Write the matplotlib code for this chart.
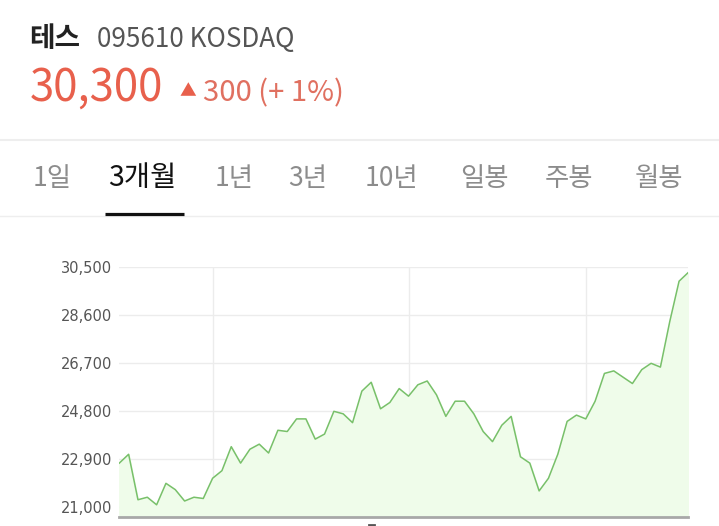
import matplotlib.pyplot as plt
from matplotlib.lines import Line2D

W, H = 719, 526

# 3개월 종가 (원)
prices = [22750, 23100, 21300, 21400, 21100, 21950, 21700, 21250, 21400, 21350,
          22150, 22450, 23400, 22750, 23300, 23500, 23150, 24050, 24000, 24500,
          24500, 23700, 23900, 24800, 24700, 24350, 25600, 25950, 24900, 25150,
          25700, 25400, 25850, 26000, 25450, 24600, 25200, 25200, 24700, 24000,
          23600, 24250, 24600, 23000, 22750, 21650, 22150, 23100, 24400, 24650,
          24500, 25200, 26300, 26400, 26150, 25900, 26450, 26700, 26550, 28350,
          29950, 30300]
y_ticks = [21000, 22900, 24800, 26700, 28600, 30500]
month_marks = [10, 31, 50]

name = "테스"
code = "095610 KOSDAQ"
price_text = "30,300"
change_text = "300 (+ 1%)"
tabs = ["1일", "3개월", "1년", "3년", "10년", "일봉", "주봉", "월봉"]
tab_x = [33, 108, 215, 288, 365, 460, 545, 635]
active_tab = 1

KR = ["Noto Sans CJK KR", "DejaVu Sans"]


def fx(x):
    return x / W


def fy(y):
    return 1 - y / H


fig = plt.figure(figsize=(W / 100, H / 100), dpi=100)
fig.patch.set_facecolor("white")

# header
fig.text(fx(29), fy(47), name, family=KR, fontsize=20, weight="bold",
         color="#222222", va="baseline")
fig.text(fx(97), fy(47), code, family=KR, fontsize=18.8, color="#555555",
         va="baseline")
fig.text(fx(30), fy(101), price_text, family=KR, fontsize=31.5, color="#e8604c",
         va="baseline")
fig.text(fx(180), fy(96), "▲", family=KR, fontsize=12, color="#e8604c",
         va="baseline")
fig.text(fx(203), fy(101), change_text, family=KR, fontsize=21,
         color="#e07060", va="baseline")

# separators
fig.add_artist(Line2D([0, 1], [fy(140), fy(140)], color="#eeeeee", lw=1.5))
fig.add_artist(Line2D([0, 1], [fy(215.5), fy(215.5)], color="#eeeeee", lw=1))

# tabs
for i, (t, x) in enumerate(zip(tabs, tab_x)):
    active = i == active_tab
    fig.text(fx(x), fy(178), t, family=KR, fontsize=20.5 if active else 19,
             color="#111111" if active else "#8c8c8c", va="center",
             weight="medium" if active else "normal")
fig.add_artist(Line2D([fx(105), fx(184)], [fy(213.5), fy(213.5)],
                      color="#111111", lw=2.3, solid_capstyle="butt"))

# chart
ax = fig.add_axes([fx(119.3), fy(516.7), fx(688.4) - fx(119.3),
                   fy(267.3) - fy(516.7)])
x = list(range(len(prices)))
ax.fill_between(x, prices, 20629, color="#effcea", zorder=1)
ax.plot(x, prices, color="#78c06a", lw=1.1, zorder=3)
ax.set_xlim(0, len(prices) - 1)
ax.set_ylim(20629, 30500)
ax.set_yticks(y_ticks)
ax.set_yticklabels([f"{v:,}" for v in y_ticks])
ax.set_xticks([])
for v in y_ticks:
    ax.axhline(v, color="#ececec", lw=1, zorder=0)
for m in month_marks:
    ax.axvline(m, color="#ececec", lw=1, zorder=0)
ax.tick_params(axis="y", length=0, pad=5, labelsize=10.5, labelcolor="#555555")
for s in ["top", "right", "left"]:
    ax.spines[s].set_visible(False)
ax.spines["bottom"].set_color("#a8a8a8")
ax.spines["bottom"].set_linewidth(2)
ax.set_facecolor("white")

# cut-off label mark below the axis
fig.add_artist(Line2D([fx(369), fx(374)], [fy(525), fy(525)], color="#555555",
                      lw=2))

fig.savefig("out.png", dpi=100)
